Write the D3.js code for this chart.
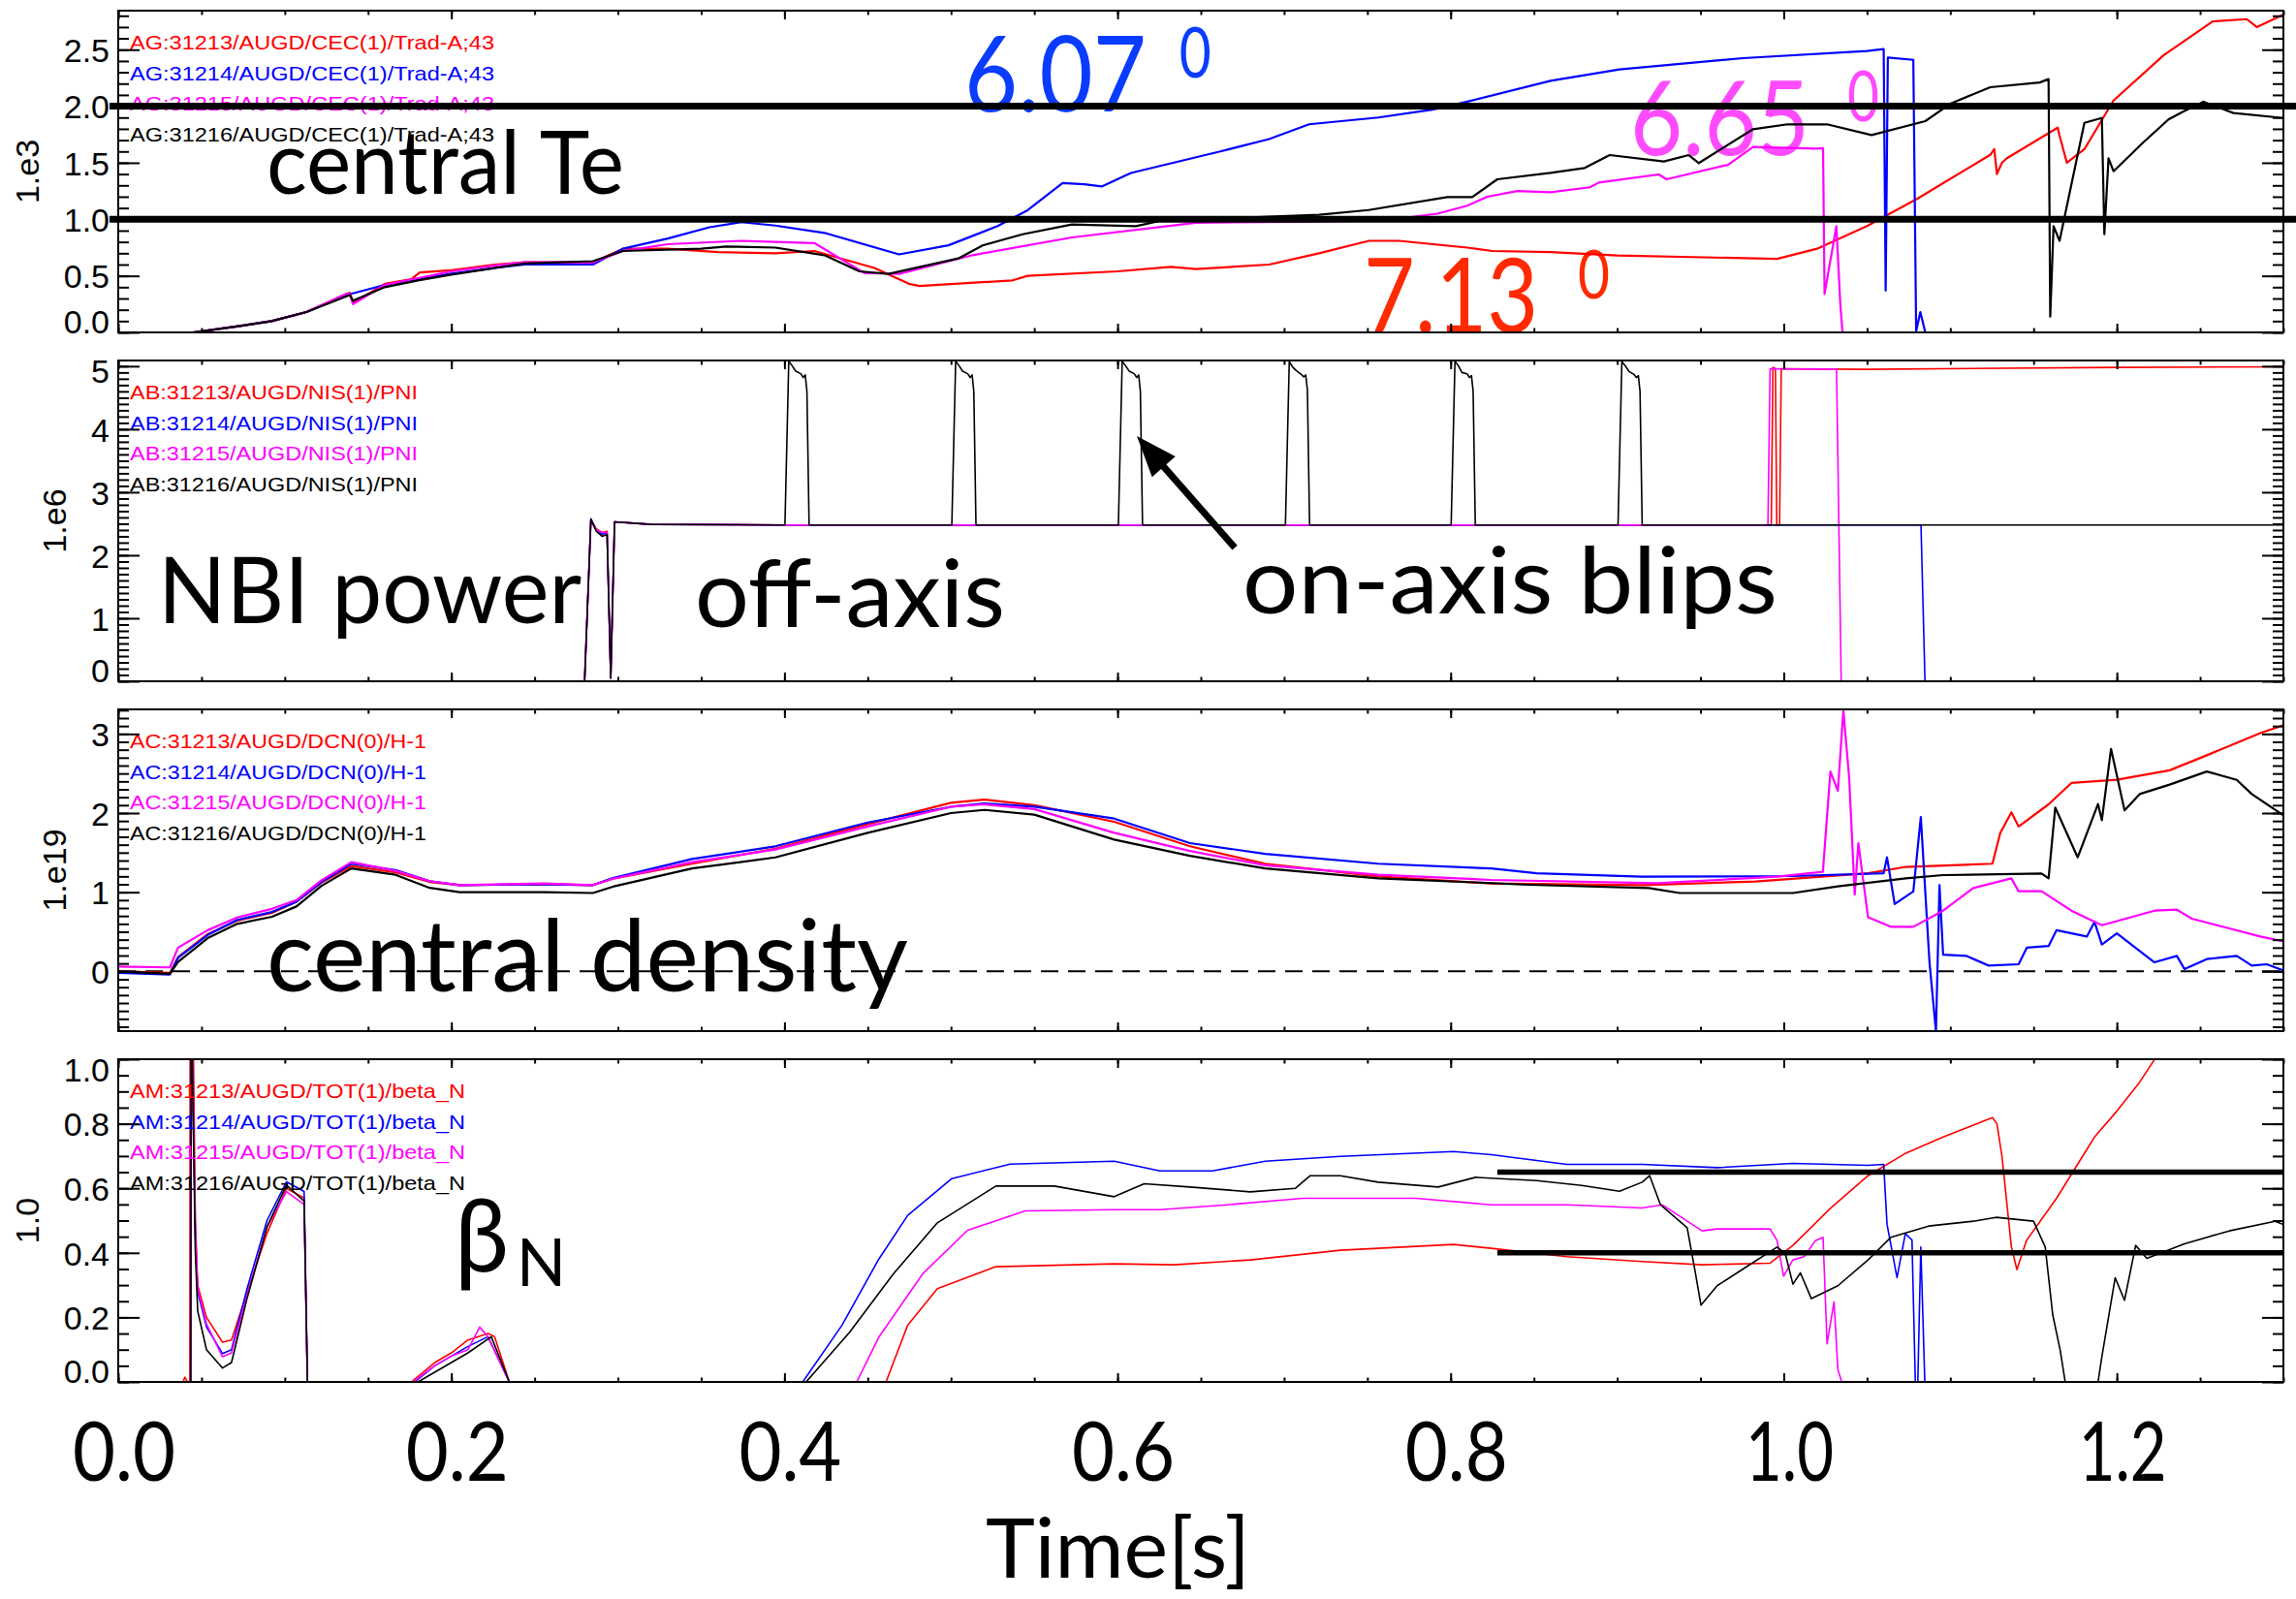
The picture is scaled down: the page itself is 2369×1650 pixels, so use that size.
<!DOCTYPE html>
<html>
<head>
<meta charset="utf-8">
<script src="https://cdn.jsdelivr.net/npm/d3@7"></script>
<style>
body{margin:0;background:#fff}
svg{display:block}
</style>
</head>
<body>
<svg id="chart" width="2369" height="1650"></svg>
<script>
// ---- data: [time s, value] ----

// central Te (1.e3)
var teRed = [[0,0],[0.045,0],[0.07,0.05],[0.092,0.10],[0.113,0.18],[0.137,0.34],[0.139,0.35],[0.141,0.26],[0.16,0.43],[0.176,0.47],[0.181,0.53],[0.20,0.55],[0.226,0.60],[0.244,0.62],[0.285,0.62],[0.303,0.74],[0.33,0.74],[0.36,0.71],[0.3945,0.70],[0.418,0.72],[0.454,0.57],[0.4747,0.43],[0.481,0.41],[0.537,0.46],[0.546,0.50],[0.60,0.54],[0.632,0.58],[0.647,0.56],[0.691,0.60],[0.721,0.70],[0.751,0.81],[0.769,0.81],[0.81,0.75],[0.825,0.72],[0.86,0.71],[0.90,0.68],[0.996,0.65],[1.02,0.74],[1.05,0.94],[1.08,1.18],[1.124,1.57],[1.1264,1.62],[1.128,1.40],[1.131,1.50],[1.134,1.54],[1.1645,1.81],[1.1656,1.74],[1.17,1.50],[1.1805,1.62],[1.198,2.05],[1.228,2.45],[1.2575,2.75],[1.278,2.77],[1.284,2.70],[1.30,2.81]];
var teBlue = [[0,0],[0.045,0],[0.07,0.05],[0.092,0.10],[0.113,0.18],[0.137,0.33],[0.16,0.42],[0.18,0.47],[0.20,0.52],[0.226,0.57],[0.244,0.60],[0.285,0.60],[0.303,0.74],[0.33,0.83],[0.355,0.93],[0.374,0.975],[0.3945,0.945],[0.424,0.88],[0.4688,0.69],[0.4985,0.77],[0.528,0.94],[0.546,1.08],[0.567,1.32],[0.58,1.31],[0.5905,1.29],[0.608,1.41],[0.6617,1.60],[0.691,1.71],[0.715,1.84],[0.7566,1.90],[0.789,1.97],[0.81,2.04],[0.86,2.225],[0.9014,2.325],[0.9756,2.425],[1.05,2.488],[1.06,2.505],[1.0612,0.37],[1.0625,2.43],[1.0778,2.41],[1.0795,0.01],[1.082,0.18],[1.085,0],[1.30,0]];
var teMag = [[0,0],[0.045,0],[0.07,0.05],[0.092,0.10],[0.113,0.18],[0.137,0.34],[0.139,0.34],[0.141,0.25],[0.16,0.42],[0.18,0.48],[0.20,0.54],[0.226,0.59],[0.244,0.62],[0.285,0.62],[0.303,0.72],[0.33,0.78],[0.374,0.81],[0.3945,0.80],[0.418,0.79],[0.448,0.525],[0.4688,0.517],[0.513,0.683],[0.5726,0.84],[0.647,0.97],[0.72,0.98],[0.76,0.99],[0.792,1.05],[0.81,1.12],[0.822,1.20],[0.84,1.25],[0.86,1.24],[0.8836,1.283],[0.889,1.325],[0.925,1.397],[0.9296,1.354],[0.9665,1.482],[0.9816,1.64],[1.02,1.625],[1.0236,1.63],[1.0245,0.34],[1.0316,0.94],[1.034,0.24],[1.0353,0],[1.30,0]];
var teBlack = [[0,0],[0.045,0],[0.07,0.05],[0.092,0.10],[0.113,0.18],[0.137,0.32],[0.139,0.33],[0.141,0.28],[0.16,0.40],[0.18,0.46],[0.20,0.51],[0.226,0.57],[0.244,0.61],[0.285,0.63],[0.303,0.72],[0.35,0.74],[0.365,0.76],[0.3945,0.75],[0.424,0.683],[0.445,0.54],[0.4626,0.517],[0.5044,0.654],[0.519,0.769],[0.543,0.868],[0.5726,0.954],[0.611,0.94],[0.626,0.988],[0.721,1.04],[0.7507,1.082],[0.798,1.197],[0.813,1.197],[0.828,1.354],[0.86,1.41],[0.8805,1.454],[0.8955,1.568],[0.928,1.511],[0.943,1.568],[0.949,1.497],[0.9816,1.797],[1.0023,1.84],[1.026,1.84],[1.0527,1.745],[1.085,1.868],[1.1004,2.025],[1.124,2.168],[1.1537,2.21],[1.159,2.24],[1.16,0.14],[1.162,0.94],[1.1656,0.81],[1.1805,1.853],[1.191,1.896],[1.1925,0.868],[1.195,1.54],[1.198,1.425],[1.216,1.682],[1.231,1.883],[1.24,1.954],[1.252,2.04],[1.27,1.94],[1.30,1.896]];

// NBI power (1.e6)
var nbiRed = [[0,0],[0.280,0],[0.2838,2.56],[0.287,2.42],[0.2905,2.36],[0.2935,2.38],[0.2957,0.05],[0.298,2.53],[0.32,2.49],[0.40,2.48],[0.9925,2.48],[0.9935,4.98],[0.995,4.96],[0.9958,2.48],[0.9975,2.48],[0.9985,4.96],[1.05,4.95],[1.20,4.98],[1.30,4.99]];
var nbiBlue = [[0,0],[0.280,0],[0.2838,2.58],[0.287,2.40],[0.2905,2.33],[0.2935,2.36],[0.2957,0.05],[0.298,2.53],[0.32,2.49],[0.40,2.48],[1.0824,2.48],[1.0848,0],[1.30,0]];
var nbiMag = [[0,0],[0.280,0],[0.2838,2.55],[0.287,2.40],[0.2905,2.36],[0.2935,2.36],[0.2957,0.05],[0.298,2.53],[0.32,2.49],[0.40,2.48],[0.9905,2.48],[0.9918,4.96],[1.0317,4.95],[1.0345,0],[1.30,0]];
var nbiBlack = [[0,0],[0.280,0],[0.2838,2.57],[0.287,2.38],[0.2905,2.30],[0.2935,2.33],[0.2957,0.05],[0.298,2.53],[0.32,2.49],
  [0.4003,2.48],[0.4026,5.08],[0.4048,5.0],[0.4068,4.92],[0.4098,4.88],[0.4113,4.82],[0.4125,4.86],[0.4135,4.6],[0.4148,2.48],
  [0.5005,2.48],[0.5028,5.08],[0.505,5.0],[0.507,4.92],[0.51,4.88],[0.5115,4.82],[0.5127,4.86],[0.5137,4.6],[0.515,2.48],
  [0.6005,2.48],[0.6028,5.08],[0.605,5.0],[0.607,4.92],[0.61,4.88],[0.6115,4.82],[0.6127,4.86],[0.6137,4.6],[0.615,2.48],
  [0.7008,2.48],[0.7031,5.07],[0.7053,4.98],[0.7073,4.93],[0.7103,4.87],[0.7118,4.83],[0.713,4.86],[0.714,4.62],[0.7153,2.48],
  [0.8003,2.48],[0.8026,5.08],[0.8048,5.0],[0.8068,4.9],[0.8098,4.88],[0.8113,4.82],[0.8125,4.85],[0.8135,4.6],[0.8148,2.48],
  [0.9005,2.48],[0.9028,5.07],[0.905,5.0],[0.907,4.92],[0.91,4.87],[0.9115,4.82],[0.9127,4.85],[0.9137,4.6],[0.915,2.48],
  [1.30,2.48]];

// central density (1.e19)
var dnRed = [[0,0.0],[0.031,-0.02],[0.0359,0.18],[0.0537,0.47],[0.0714,0.64],[0.0923,0.74],[0.107,0.88],[0.122,1.12],[0.14,1.33],[0.1665,1.25],[0.187,1.13],[0.205,1.09],[0.2556,1.10],[0.285,1.09],[0.297,1.17],[0.3446,1.36],[0.3945,1.55],[0.45,1.86],[0.50,2.13],[0.52,2.17],[0.55,2.10],[0.598,1.89],[0.6435,1.58],[0.6887,1.36],[0.7565,1.20],[0.8244,1.11],[0.9148,1.09],[0.983,1.135],[1.0506,1.24],[1.0733,1.32],[1.1253,1.36],[1.13,1.75],[1.1367,2.01],[1.141,1.83],[1.159,2.11],[1.1727,2.38],[1.20,2.42],[1.2317,2.54],[1.254,2.73],[1.2861,3.01],[1.30,3.11]];
var dnBlue = [[0,-0.02],[0.031,-0.04],[0.0359,0.17],[0.0537,0.46],[0.0714,0.65],[0.0923,0.75],[0.107,0.88],[0.122,1.13],[0.14,1.36],[0.1665,1.28],[0.187,1.14],[0.205,1.09],[0.2556,1.10],[0.285,1.09],[0.297,1.18],[0.3446,1.42],[0.3945,1.58],[0.45,1.88],[0.50,2.08],[0.52,2.12],[0.55,2.08],[0.598,1.93],[0.6435,1.62],[0.6887,1.485],[0.7565,1.36],[0.8244,1.30],[0.8516,1.24],[0.9148,1.196],[1.0055,1.204],[1.06,1.24],[1.062,1.44],[1.0666,0.85],[1.0778,1.01],[1.0823,1.95],[1.0875,0.115],[1.0914,-0.76],[1.0935,1.09],[1.0957,0.21],[1.1095,0.196],[1.123,0.073],[1.141,0.09],[1.146,0.30],[1.159,0.32],[1.1638,0.52],[1.182,0.44],[1.1866,0.625],[1.191,0.34],[1.20,0.48],[1.2226,0.114],[1.236,0.196],[1.2406,0.03],[1.254,0.155],[1.272,0.196],[1.281,0.073],[1.29,0.09],[1.30,0.01]];
var dnMag = [[0,0.06],[0.031,0.05],[0.0359,0.30],[0.0537,0.52],[0.0714,0.68],[0.0923,0.79],[0.107,0.90],[0.122,1.15],[0.14,1.38],[0.1665,1.27],[0.187,1.14],[0.205,1.09],[0.2556,1.11],[0.285,1.09],[0.297,1.17],[0.3446,1.38],[0.3945,1.54],[0.45,1.83],[0.50,2.08],[0.52,2.11],[0.55,2.05],[0.598,1.75],[0.6435,1.52],[0.6887,1.34],[0.7565,1.22],[0.8244,1.155],[0.9241,1.114],[0.996,1.196],[1.0235,1.257],[1.028,2.525],[1.0325,2.28],[1.0358,3.30],[1.0393,2.44],[1.0426,0.97],[1.0448,1.62],[1.0506,0.685],[1.0643,0.563],[1.0778,0.563],[1.0957,0.767],[1.1138,1.053],[1.1367,1.175],[1.141,1.012],[1.1548,1.012],[1.1727,0.767],[1.191,0.583],[1.2226,0.767],[1.236,0.78],[1.245,0.665],[1.2675,0.543],[1.2861,0.44],[1.30,0.38]];
var dnBlack = [[0,0.0],[0.031,-0.03],[0.0359,0.12],[0.0537,0.42],[0.0714,0.60],[0.0923,0.69],[0.107,0.82],[0.122,1.08],[0.14,1.30],[0.1665,1.22],[0.187,1.055],[0.205,1.0],[0.2556,1.0],[0.285,0.99],[0.297,1.07],[0.3446,1.30],[0.3945,1.44],[0.45,1.75],[0.50,2.00],[0.52,2.04],[0.55,1.98],[0.598,1.665],[0.6435,1.46],[0.6887,1.30],[0.7565,1.176],[0.847,1.094],[0.919,1.053],[0.9375,0.99],[1.0055,0.99],[1.0325,1.073],[1.0733,1.176],[1.0957,1.216],[1.1548,1.237],[1.159,1.176],[1.163,2.07],[1.1765,1.44],[1.1887,2.114],[1.191,1.91],[1.1965,2.81],[1.2046,2.035],[1.2137,2.24],[1.2317,2.36],[1.254,2.525],[1.272,2.42],[1.281,2.24],[1.30,1.97]];

// beta_N (1.0)
var bnRed = [[0,0],[0.039,0],[0.040,0.015],[0.0415,0],[0.043,0],[0.0432,1.3],[0.0445,1.3],[0.0463,0.5],[0.0477,0.30],[0.053,0.20],[0.0626,0.123],[0.068,0.13],[0.0774,0.278],[0.0893,0.46],[0.101,0.60],[0.1116,0.57],[0.1136,0],[0.176,0],[0.19,0.06],[0.20,0.09],[0.21,0.13],[0.222,0.15],[0.226,0.14],[0.2348,0],[0.461,0],[0.474,0.176],[0.4918,0.289],[0.527,0.357],[0.598,0.366],[0.634,0.363],[0.6797,0.378],[0.7338,0.408],[0.8018,0.426],[0.8244,0.414],[0.8697,0.388],[0.915,0.373],[0.951,0.363],[0.9918,0.368],[1.0055,0.423],[1.028,0.538],[1.0506,0.639],[1.0733,0.709],[1.0957,0.759],[1.1253,0.819],[1.128,0.80],[1.131,0.70],[1.1367,0.418],[1.14,0.348],[1.1457,0.438],[1.1638,0.569],[1.1866,0.759],[1.20,0.839],[1.2137,0.929],[1.2226,0.999],[1.24,1.1]];
var bnBlue = [[0,0],[0.0435,0],[0.0438,1.2],[0.0463,0.45],[0.0477,0.28],[0.053,0.17],[0.0626,0.088],[0.068,0.10],[0.0774,0.29],[0.0893,0.50],[0.101,0.62],[0.1116,0.59],[0.1136,0],[0.178,0],[0.19,0.05],[0.20,0.08],[0.21,0.11],[0.222,0.14],[0.2348,0],[0.411,0],[0.4346,0.176],[0.4566,0.38],[0.474,0.516],[0.5005,0.63],[0.5355,0.675],[0.598,0.684],[0.6254,0.654],[0.657,0.654],[0.6887,0.684],[0.7338,0.699],[0.8018,0.714],[0.8244,0.704],[0.8697,0.674],[0.915,0.674],[0.96,0.664],[1.0055,0.677],[1.0506,0.671],[1.06,0.674],[1.062,0.489],[1.068,0.323],[1.073,0.459],[1.077,0.44],[1.079,0],[1.0805,0],[1.0823,0.418],[1.0847,0],[1.30,0]];
var bnMag = [[0,0],[0.0435,0],[0.0438,1.2],[0.0463,0.48],[0.0477,0.29],[0.053,0.18],[0.0626,0.078],[0.068,0.09],[0.0774,0.27],[0.0893,0.48],[0.101,0.59],[0.1116,0.55],[0.1136,0],[0.177,0],[0.19,0.05],[0.20,0.08],[0.21,0.10],[0.217,0.17],[0.222,0.14],[0.2348,0],[0.4434,0],[0.4566,0.138],[0.483,0.335],[0.51,0.47],[0.5446,0.53],[0.598,0.534],[0.6254,0.534],[0.666,0.549],[0.7113,0.569],[0.779,0.569],[0.8244,0.549],[0.8697,0.549],[0.915,0.539],[0.927,0.549],[0.951,0.468],[0.96,0.474],[0.9918,0.474],[0.996,0.438],[0.9999,0.328],[1.0055,0.378],[1.0122,0.388],[1.019,0.438],[1.0236,0.448],[1.026,0.118],[1.0302,0.248],[1.0325,0.038],[1.0348,0],[1.30,0]];
var bnBlack = [[0,0],[0.0435,0],[0.0438,1.2],[0.0463,0.40],[0.0477,0.22],[0.053,0.10],[0.0626,0.043],[0.068,0.06],[0.0774,0.26],[0.0893,0.48],[0.101,0.61],[0.1116,0.56],[0.1136,0],[0.18,0],[0.19,0.03],[0.20,0.06],[0.21,0.09],[0.224,0.14],[0.2348,0],[0.413,0],[0.439,0.153],[0.4654,0.335],[0.4918,0.493],[0.527,0.607],[0.562,0.607],[0.598,0.574],[0.616,0.614],[0.6435,0.604],[0.6797,0.589],[0.7068,0.60],[0.7157,0.639],[0.7338,0.639],[0.7565,0.619],[0.7925,0.604],[0.815,0.634],[0.8516,0.624],[0.8787,0.609],[0.9014,0.591],[0.915,0.619],[0.9195,0.639],[0.926,0.549],[0.942,0.478],[0.9466,0.348],[0.9503,0.238],[0.96,0.298],[0.978,0.358],[0.996,0.418],[1.0009,0.398],[1.0055,0.303],[1.01,0.338],[1.0166,0.258],[1.0325,0.298],[1.0506,0.378],[1.0643,0.448],[1.087,0.483],[1.1138,0.498],[1.1274,0.51],[1.15,0.498],[1.157,0.418],[1.1615,0.208],[1.166,0.098],[1.169,0],[1.1887,0],[1.191,0.078],[1.199,0.323],[1.2046,0.253],[1.2113,0.423],[1.218,0.383],[1.2406,0.428],[1.2675,0.468],[1.295,0.498],[1.30,0.488]];

// legend texts
var teLabels = ["AG:31213/AUGD/CEC(1)/Trad-A;43","AG:31214/AUGD/CEC(1)/Trad-A;43","AG:31215/AUGD/CEC(1)/Trad-A;43","AG:31216/AUGD/CEC(1)/Trad-A;43"];
var nbiLabels = ["AB:31213/AUGD/NIS(1)/PNI","AB:31214/AUGD/NIS(1)/PNI","AB:31215/AUGD/NIS(1)/PNI","AB:31216/AUGD/NIS(1)/PNI"];
var dnLabels = ["AC:31213/AUGD/DCN(0)/H-1","AC:31214/AUGD/DCN(0)/H-1","AC:31215/AUGD/DCN(0)/H-1","AC:31216/AUGD/DCN(0)/H-1"];
var bnLabels = ["AM:31213/AUGD/TOT(1)/beta_N","AM:31214/AUGD/TOT(1)/beta_N","AM:31215/AUGD/TOT(1)/beta_N","AM:31216/AUGD/TOT(1)/beta_N"];

// tick values
var teTicks = [0.0, 0.5, 1.0, 1.5, 2.0, 2.5];
var nbiTicks = [0, 1, 2, 3, 4, 5];
var dnTicks = [0, 1, 2, 3];
var bnTicks = [0.0, 0.2, 0.4, 0.6, 0.8, 1.0];
var timeTicks = [0.0, 0.2, 0.4, 0.6, 0.8, 1.0, 1.2];

// thick reference lines
var teRefs = [2.0, 1.0];
var bnRefs = [0.65, 0.40];
var bnRefStart = 0.828;

var colors = ["#ff0000", "#0000ff", "#ff00ff", "#000000"];

// ---- layout ----
var W = 2369, H = 1650;
var left = 122, right = 2356;
var svg = d3.select("#chart");
var x = d3.scaleLinear().domain([0, 1.3]).range([left, right]);

var panels = [
	{top: 11, bottom: 343, domain: [0, 2.845], series: [teRed, teBlue, teMag, teBlack], labels: teLabels,
		ticks: teTicks, fmt: d3.format(".1f"), minor: 0.1, title: "1.e3", titleX: 28, legendLen: 376, lw: 2.2},
	{top: 372, bottom: 703, domain: [0, 5.09], series: [nbiRed, nbiBlue, nbiMag, nbiBlack], labels: nbiLabels,
		ticks: nbiTicks, fmt: d3.format("d"), minor: 0.1, title: "1.e6", titleX: 56, legendLen: 297, lw: 1.6},
	{top: 732, bottom: 1064, domain: [-0.755, 3.31], series: [dnRed, dnBlue, dnMag, dnBlack], labels: dnLabels,
		ticks: dnTicks, fmt: d3.format("d"), minor: 0.1, title: "1.e19", titleX: 56, legendLen: 306, lw: 2.2},
	{top: 1093, bottom: 1426, domain: [0, 1.0], series: [bnRed, bnBlue, bnMag, bnBlack], labels: bnLabels,
		ticks: bnTicks, fmt: d3.format(".1f"), minor: 0.05, title: "1.0", titleX: 28, legendLen: 346, lw: 1.6}
];

var bigFont = "Lato, 'Open Sans', sans-serif";
var idlFont = "'Liberation Sans', Arial, Helvetica, sans-serif";

function minorValues(d0, d1, step) {
	var out = [];
	var k0 = Math.ceil(d0 / step - 1e-6), k1 = Math.floor(d1 / step + 1e-6);
	for (var k = k0; k <= k1; k++) out.push(+(k * step).toFixed(4));
	return out;
}
var xMinor = minorValues(0, 1.3, 0.05);
var xMajor = minorValues(0, 1.3, 0.2);

// big annotations (drawn under the traces)
function bigText(g, px, py, txt, size, len, color) {
	return g.append("text")
		.attr("x", px).attr("y", py)
		.attr("font-family", bigFont)
		.attr("font-size", size)
		.attr("fill", color)
		.attr("textLength", len)
		.attr("lengthAdjust", "spacingAndGlyphs")
		.text(txt);
}

panels.forEach(function(p, pi){
	p.y = d3.scaleLinear().domain(p.domain).range([p.bottom, p.top]);
	p.g = svg.append("g");
	p.annot = p.g.append("g");
	var clipId = "clip" + pi;
	svg.append("clipPath").attr("id", clipId)
		.append("rect")
		.attr("x", left).attr("y", p.top)
		.attr("width", right - left).attr("height", p.bottom - p.top);

	// dashed zero line
	if (p.domain[0] <= 0 && p.domain[1] >= 0) {
		p.g.append("line")
			.attr("x1", left).attr("x2", right)
			.attr("y1", p.y(0)).attr("y2", p.y(0))
			.attr("stroke", "#000").attr("stroke-width", 2)
			.attr("stroke-dasharray", "18,10");
	}

	// traces
	var line = d3.line()
		.x(function(d){ return x(d[0]); })
		.y(function(d){ return p.y(d[1]); });
	p.g.append("g").attr("clip-path", "url(#" + clipId + ")")
		.selectAll("path")
		.data(p.series)
		.enter()
		.append("path")
		.attr("d", line)
		.attr("fill", "none")
		.attr("stroke", function(d, i){ return colors[i]; })
		.attr("stroke-width", p.lw)
		.attr("stroke-linejoin", "round");

	// legend
	p.g.selectAll("text.legend")
		.data(p.labels)
		.enter()
		.append("text")
		.attr("class", "legend")
		.attr("x", 134)
		.attr("y", function(d, i){ return p.top + 40 + i * 31.7; })
		.attr("font-family", idlFont)
		.attr("font-size", 21)
		.attr("textLength", p.legendLen)
		.attr("lengthAdjust", "spacingAndGlyphs")
		.attr("fill", function(d, i){ return colors[i]; })
		.text(function(d){ return d; });

	p.refs = p.g.append("g");

	// frame
	var ax = p.g.append("g");
	ax.append("rect")
		.attr("x", left).attr("y", p.top)
		.attr("width", right - left).attr("height", p.bottom - p.top)
		.attr("fill", "none").attr("stroke", "#000").attr("stroke-width", 2);

	var yMinor = minorValues(p.domain[0], p.domain[1], p.minor);

	function style(sel) {
		sel.select(".domain").remove();
		sel.selectAll(".tick line").attr("stroke-width", 2);
	}

	// y axes (ticks pointing inwards)
	ax.append("g").attr("transform", "translate(" + left + ",0)")
		.call(d3.axisLeft(p.y).tickValues(yMinor).tickSize(-11).tickFormat(""))
		.call(style);
	var yl = ax.append("g").attr("transform", "translate(" + left + ",0)")
		.call(d3.axisLeft(p.y).tickValues(p.ticks).tickSize(-22).tickPadding(9).tickFormat(p.fmt))
		.call(style);
	yl.selectAll(".tick text")
		.attr("font-family", idlFont)
		.attr("font-size", 34)
		.attr("fill", "#000")
		.attr("dy", "0.36em")
		.attr("y", function(d){
			var py = p.y(d);
			var c = Math.max(p.top + 10, Math.min(p.bottom - 12, py));
			return c - py;
		});
	ax.append("g").attr("transform", "translate(" + right + ",0)")
		.call(d3.axisRight(p.y).tickValues(yMinor).tickSize(-11).tickFormat(""))
		.call(style);
	ax.append("g").attr("transform", "translate(" + right + ",0)")
		.call(d3.axisRight(p.y).tickValues(p.ticks).tickSize(-22).tickFormat(""))
		.call(style);

	// x axes top/bottom, no labels
	ax.append("g").attr("transform", "translate(0," + p.top + ")")
		.call(d3.axisTop(x).tickValues(xMinor).tickSize(-4.5).tickFormat(""))
		.call(style);
	ax.append("g").attr("transform", "translate(0," + p.top + ")")
		.call(d3.axisTop(x).tickValues(xMajor).tickSize(-9).tickFormat(""))
		.call(style);
	ax.append("g").attr("transform", "translate(0," + p.bottom + ")")
		.call(d3.axisBottom(x).tickValues(xMinor).tickSize(-4.5).tickFormat(""))
		.call(style);
	ax.append("g").attr("transform", "translate(0," + p.bottom + ")")
		.call(d3.axisBottom(x).tickValues(xMajor).tickSize(-9).tickFormat(""))
		.call(style);

	// y title
	svg.append("text")
		.attr("transform", "translate(" + p.titleX + "," + ((p.top + p.bottom) / 2) + ") rotate(-90)")
		.attr("text-anchor", "middle")
		.attr("dy", "0.36em")
		.attr("font-family", idlFont)
		.attr("font-size", 34)
		.text(p.title);
});

var pTe = panels[0], pNbi = panels[1], pDn = panels[2], pBn = panels[3];

// ---- panel 1 annotations ----
bigText(pTe.annot, x(0.089), pTe.y(1.225), "central Te", 91, 369, "#000");
bigText(pTe.annot, x(0.508), pTe.y(1.954), "6.07", 109, 188, "#0a3cff");
bigText(pTe.annot, x(0.637), pTe.y(2.254), "0", 71, 33, "#0a3cff");
bigText(pTe.annot, x(0.9078), pTe.y(1.568), "6.65", 107, 185, "#ff4bff");
bigText(pTe.annot, x(1.0381), pTe.y(1.868), "0", 72, 33, "#ff4bff");
bigText(pTe.annot, x(0.7478), pTe.y(0.0), "7.13", 107, 180, "#ff2a00");
bigText(pTe.annot, x(0.8763), pTe.y(0.30), "0", 70, 33, "#ff2a00");

pTe.refs.selectAll("line")
	.data(teRefs)
	.enter()
	.append("line")
	.attr("x1", left - 9).attr("x2", W)
	.attr("y1", function(d){ return pTe.y(d); })
	.attr("y2", function(d){ return pTe.y(d); })
	.attr("stroke", "#000").attr("stroke-width", 7);

// ---- panel 2 annotations ----
bigText(pNbi.annot, x(0.0239), pNbi.y(0.922), "NBI power", 95, 437, "#000");
bigText(pNbi.annot, x(0.3462), pNbi.y(0.861), "off-axis", 97, 320, "#000");
bigText(pNbi.annot, x(0.675), pNbi.y(1.076), "on-axis blips", 95, 552, "#000");

var arrowTail = [0.6704, 2.12], arrowTip = [0.6116, 3.89];
(function(){
	var tx = x(arrowTail[0]), ty = pNbi.y(arrowTail[1]);
	var hx = x(arrowTip[0]), hy = pNbi.y(arrowTip[1]);
	var dx = hx - tx, dy = hy - ty, L = Math.sqrt(dx * dx + dy * dy);
	var ux = dx / L, uy = dy / L;
	var headLen = 42, headHalf = 16;
	var bx = hx - ux * headLen, by = hy - uy * headLen;
	var ag = svg.append("g");
	ag.append("line")
		.attr("x1", tx).attr("y1", ty).attr("x2", bx + ux * 4).attr("y2", by + uy * 4)
		.attr("stroke", "#000").attr("stroke-width", 7);
	ag.append("path")
		.attr("d", d3.line()([[hx, hy], [bx - uy * headHalf, by + ux * headHalf], [bx + uy * headHalf, by - ux * headHalf]]) + "Z")
		.attr("fill", "#000");
})();

// ---- panel 3 annotations ----
bigText(pDn.annot, x(0.089), pDn.y(-0.249), "central density", 103, 662, "#000");

// ---- panel 4 annotations ----
bigText(pBn.annot, x(0.2019), pBn.y(0.342), "\u03b2", 105, 56, "#000");
bigText(pBn.annot, x(0.2392), pBn.y(0.297), "N", 68, 51, "#000");

pBn.refs.selectAll("line")
	.data(bnRefs)
	.enter()
	.append("line")
	.attr("x1", x(bnRefStart)).attr("x2", right)
	.attr("y1", function(d){ return pBn.y(d); })
	.attr("y2", function(d){ return pBn.y(d); })
	.attr("stroke", "#000").attr("stroke-width", 5.5);

// ---- time axis labels (big overlay text) ----
svg.append("g")
	.selectAll("text")
	.data(timeTicks)
	.enter()
	.append("text")
	.attr("x", function(d){ return x(d) + 6; })
	.attr("y", 1528)
	.attr("text-anchor", "middle")
	.attr("font-family", bigFont)
	.attr("font-size", 86)
	.attr("textLength", function(d){ return d >= 1 ? 91 : 106; })
	.attr("lengthAdjust", "spacingAndGlyphs")
	.text(function(d){ return d3.format(".1f")(d); });

svg.append("text")
	.attr("x", 1017).attr("y", 1628)
	.attr("font-family", bigFont)
	.attr("font-size", 86)
	.attr("textLength", 273)
	.attr("lengthAdjust", "spacingAndGlyphs")
	.text("Time[s]");
</script>
</body>
</html>
